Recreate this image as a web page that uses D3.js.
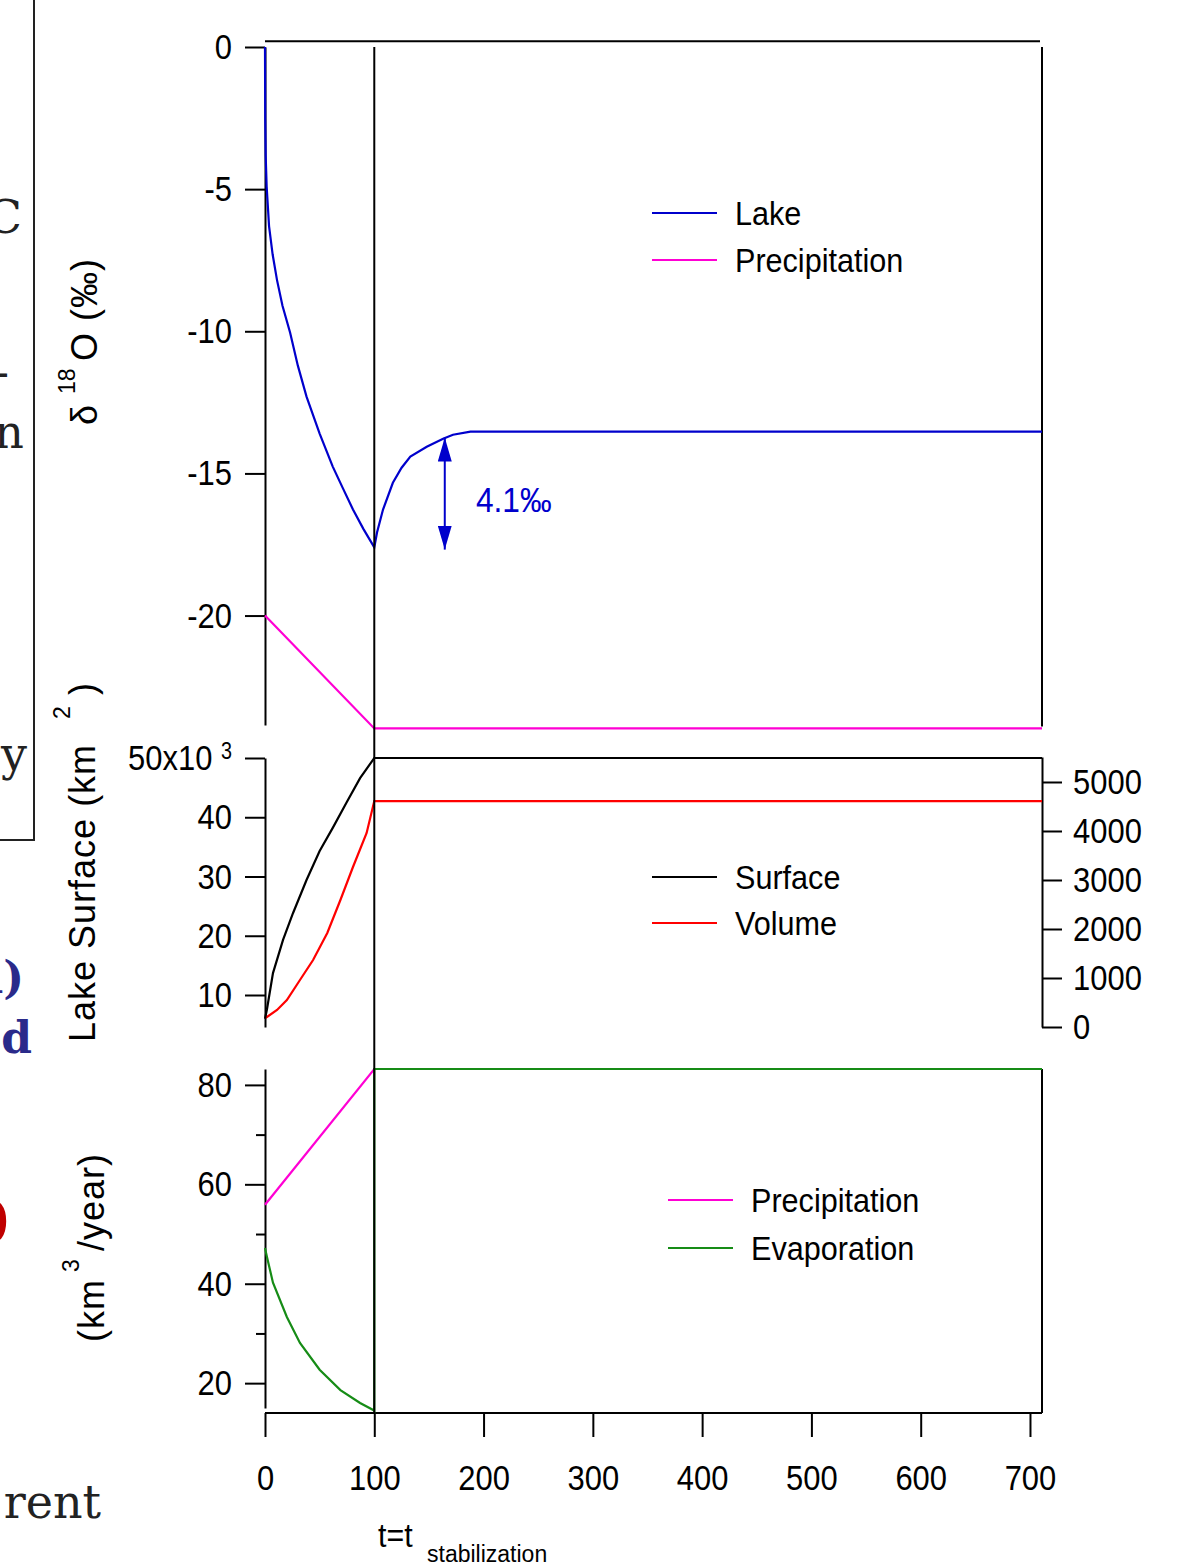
<!DOCTYPE html>
<html>
<head>
<meta charset="utf-8">
<style>
  body { margin: 0; background: #fff; }
  svg text { font-family: "Liberation Sans", Arial, sans-serif; }
  .axis path, .axis line { stroke: #000; stroke-width: 2; }
  .axis text { font-size: 36px; fill: #000; }
  svg text.frag { font-family: "DejaVu Serif", "Liberation Serif", serif; }
</style>
</head>
<body>
<svg width="1195" height="1567"></svg>
<script src="https://d3js.org/d3.v7.min.js"></script>
<script>
// --- data ---
// time axis (years)
var xTicks = [0, 100, 200, 300, 400, 500, 600, 700];

// panel 1 : delta 18O (permil)
var tLake = [0, 0.2, 0.6, 1.5, 3.7, 7, 11, 16, 23, 30, 38, 50, 62, 71, 80.5, 90, 100, 102.5, 108, 117, 125, 133, 148, 163, 172, 188, 711];
var lakeD18O = [0, -2.5, -3.8, -4.9, -6.3, -7.3, -8.2, -9.1, -10.05, -11.2, -12.3, -13.6, -14.76, -15.5, -16.27, -16.95, -17.6, -17.08, -16.27, -15.33, -14.8, -14.41, -14.06, -13.78, -13.64, -13.53, -13.53];
var tPrecipD18O = [0, 100, 711];
var precipD18O = [-20, -23.97, -23.97];
var d18OTicks = [0, -5, -10, -15, -20];

// panel 2 : lake surface (x10^3 km2, left) and volume (km3, right)
var tSurface = [0, 1.8, 7.3, 16.5, 25.6, 38, 50, 62, 75, 87, 100, 711];
var surface = [6.0, 7.6, 13.7, 19.3, 23.8, 29.4, 34.3, 38.2, 42.6, 46.6, 50, 50];
var tVolume = [0, 1.8, 11, 20, 32, 44, 57, 69, 80.5, 93, 100, 711];
var volume = [184, 204, 347, 551, 959, 1367, 1918, 2592, 3265, 3959, 4610, 4610];
var surfaceTicks = [10, 20, 30, 40, 50];
var volumeTicks = [0, 1000, 2000, 3000, 4000, 5000];

// panel 3 : fluxes (km3/year)
var tPrecipFlux = [0, 100, 711];
var precipFlux = [55.9, 83.2, 83.2];
var tEvap = [0, 1.8, 7.3, 20, 32, 50, 69, 87, 99, 100, 100, 711];
var evap = [47.2, 45.4, 40.2, 33.3, 28.1, 22.7, 18.6, 16.0, 14.6, 14.4, 83.2, 83.2];
var fluxTicks = [20, 40, 60, 80];
var fluxMinorTicks = [30, 50, 70];

var tStab = 100;
var deltaLabel = "4.1‰";

var BLUE = "#0000cc", MAGENTA = "#ff00d4", RED = "#ff0000", GREEN = "#168c16";

var svg = d3.select("svg");

var x = d3.scaleLinear().domain([0, 711]).range([265, 1042]);
var yTop = d3.scaleLinear().domain([-23.85, 0]).range([725, 47]);
var yMid = d3.scaleLinear().domain([4.6, 50]).range([1027, 758]);
var yVol = d3.scaleLinear().domain([0, 5510]).range([1027, 757]);
var yBot = d3.scaleLinear().domain([15, 83.2]).range([1408, 1069]);

function zip(ts, vs) { return ts.map(function (t, i) { return [t, vs[i]]; }); }

// narrow the glyphs around their anchor point (the original uses a condensed face)
function condense(sel, k) {
  sel.each(function () {
    var t = d3.select(this), x0 = +t.attr("x") || 0;
    t.attr("transform", "translate(" + x0 + ",0) scale(" + k + ",1) translate(" + (-x0) + ",0)");
  });
}

function drawLine(data, yScale, color) {
  svg.append("path")
    .datum(data)
    .attr("fill", "none")
    .attr("stroke", color)
    .attr("stroke-width", 2.2)
    .attr("d", d3.line().x(function (d) { return x(d[0]); }).y(function (d) { return yScale(d[1]); }));
}

function frameLine(x1, y1, x2, y2) {
  svg.append("line").attr("x1", x1).attr("y1", y1).attr("x2", x2).attr("y2", y2)
    .attr("stroke", "#000").attr("stroke-width", 2);
}

var plain = function (d) { return String(d); };

// --- axes ---
var a1 = svg.append("g").attr("class", "axis")
  .attr("transform", "translate(" + x(0) + ",0)")
  .call(d3.axisLeft(yTop).tickValues(d18OTicks).tickSize(20).tickSizeOuter(0).tickPadding(13).tickFormat(plain));
condense(a1.selectAll(".tick text"), 0.86);

var a2 = svg.append("g").attr("class", "axis")
  .attr("transform", "translate(" + x(0) + ",0)")
  .call(d3.axisLeft(yMid).tickValues(surfaceTicks).tickSize(20).tickSizeOuter(0).tickPadding(13)
    .tickFormat(function (d) { return d === 50 ? "50x10 " : String(d); }));
a2.selectAll(".tick text").filter(function (d) { return d === 50; })
  .append("tspan").attr("dy", "-0.5em").attr("font-size", "23px").text("3");
condense(a2.selectAll(".tick text"), 0.86);

var a3 = svg.append("g").attr("class", "axis")
  .attr("transform", "translate(" + x(711) + ",0)")
  .call(d3.axisRight(yVol).tickValues(volumeTicks).tickSize(20).tickSizeOuter(0).tickPadding(11).tickFormat(plain));
condense(a3.selectAll(".tick text"), 0.86);

var a4 = svg.append("g").attr("class", "axis")
  .attr("transform", "translate(" + x(0) + ",0)")
  .call(d3.axisLeft(yBot).tickValues(fluxTicks).tickSize(20).tickSizeOuter(0).tickPadding(13).tickFormat(plain));
condense(a4.selectAll(".tick text"), 0.86);
svg.append("g").attr("class", "axis")
  .attr("transform", "translate(" + x(0) + ",0)")
  .call(d3.axisLeft(yBot).tickValues(fluxMinorTicks).tickSize(9).tickSizeOuter(0).tickFormat(""))
  .select(".domain").remove();

var a5 = svg.append("g").attr("class", "axis")
  .attr("transform", "translate(0,1413)")
  .call(d3.axisBottom(x).tickValues(xTicks).tickSize(24).tickSizeOuter(0).tickPadding(27).tickFormat(plain));
a5.select(".domain").attr("d", "M" + x(0) + ",0H" + x(711));
condense(a5.selectAll(".tick text"), 0.86);

// frame lines
frameLine(x(0), yTop(0.2), x(711) - 2, yTop(0.2));
frameLine(x(711), yTop(0), x(711), yTop(-23.9));
frameLine(x(tStab), yMid(50), x(711), yMid(50));
frameLine(x(711), yBot(83.2), x(711), 1413);

// --- data lines ---
drawLine(zip(tPrecipD18O, precipD18O), yTop, MAGENTA);
drawLine(zip(tLake, lakeD18O), yTop, BLUE);
drawLine(zip(tVolume, volume), yVol, RED);
drawLine(zip(tSurface, surface), yMid, "#000");
drawLine(zip(tPrecipFlux, precipFlux), yBot, MAGENTA);
drawLine(zip(tEvap, evap), yBot, GREEN);

// stabilization marker
frameLine(x(tStab), yTop(0), x(tStab), 1413);

// --- annotation 4.1 permil ---
svg.append("defs").append("marker").attr("id", "ah")
  .attr("viewBox", "0 0 24 14").attr("refX", 24).attr("refY", 7)
  .attr("markerWidth", 24).attr("markerHeight", 14)
  .attr("markerUnits", "userSpaceOnUse").attr("orient", "auto-start-reverse")
  .append("path").attr("d", "M0,0L24,7L0,14Z").attr("fill", BLUE);
var ax = x(164.5);
svg.append("line").attr("x1", ax).attr("x2", ax)
  .attr("y1", yTop(-13.74)).attr("y2", yTop(-17.68))
  .attr("stroke", BLUE).attr("stroke-width", 2)
  .attr("marker-start", "url(#ah)").attr("marker-end", "url(#ah)");
var ann = svg.append("text").attr("x", x(193)).attr("y", yTop(-15.35) + 29)
  .attr("fill", BLUE).attr("font-size", "36px").text(deltaLabel);
condense(ann, 0.88);

// --- legends ---
function legend(items, lx, ty, gap) {
  items.forEach(function (it, i) {
    var yy = ty + i * gap;
    svg.append("line").attr("x1", lx).attr("x2", lx + 65).attr("y1", yy).attr("y2", yy)
      .attr("stroke", it[1]).attr("stroke-width", 2);
    var t = svg.append("text").attr("x", lx + 83).attr("y", yy + 12).attr("font-size", "34px").text(it[0]);
    condense(t, 0.9);
  });
}
legend([["Lake", BLUE], ["Precipitation", MAGENTA]], 652, 213, 47);
legend([["Surface", "#000"], ["Volume", RED]], 652, 877, 46);
legend([["Precipitation", MAGENTA], ["Evaporation", GREEN]], 668, 1200, 48);

// --- axis titles (rotated; each part placed along the axis, superscripts raised) ---
function rotLabel(px, py, parts) {
  var t = svg.append("text").attr("transform", "translate(" + px + "," + py + ") rotate(-90)")
    .attr("font-size", "36px").attr("letter-spacing", "1px");
  parts.forEach(function (p) {
    var s = t.append("tspan").attr("x", p[1]).attr("y", p[2] ? -p[2] : 0).text(p[0]);
    if (p[2]) s.attr("font-size", "23px").attr("letter-spacing", "0px");
  });
}
rotLabel(97, 425, [["δ", 0], ["18", 31, 22], ["O (‰)", 64]]);
rotLabel(95, 1042, [["Lake Surface (km", 0], ["2", 323, 25], [")", 347]]);
rotLabel(104, 1342, [["(km", 0], ["3", 70, 25], ["/year)", 91]]);

// x title
var tt = svg.append("text").attr("x", 378).attr("y", 1547).attr("font-size", "33px").text("t=t");
condense(tt, 0.92);
svg.append("text").attr("x", 427).attr("y", 1562).attr("font-size", "23px").text("stabilization");

// --- fragments of the surrounding slide at the left edge ---
function frag(txt, fx, fy, size, color, bold) {
  svg.append("text").attr("class", "frag").attr("text-anchor", "end")
    .attr("x", fx).attr("y", fy).attr("font-size", size + "px")
    .attr("font-weight", bold ? "bold" : "normal").attr("fill", color).text(txt);
}
frag("C", 22, 233, 46, "#222");
frag("-", 9, 388, 46, "#222");
frag("n", 24, 448, 46, "#222");
frag("y", 27, 770, 46, "#222");
frag("n)", 24, 993, 44, "#2a2a8a", true);
frag("d", 32, 1053, 44, "#2a2a8a", true);
frag("0", 9, 1243, 60, "#c00000", true);
frag("rent", 101, 1518, 46, "#222");
svg.append("path").attr("d", "M34,0V840H0").attr("fill", "none").attr("stroke", "#222").attr("stroke-width", 2);
</script>
</body>
</html>
